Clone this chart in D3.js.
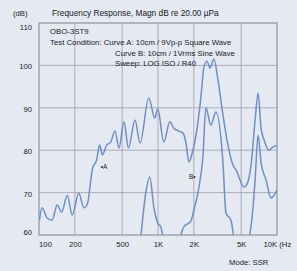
<!DOCTYPE html>
<html><head><meta charset="utf-8">
<script src="https://cdn.jsdelivr.net/npm/d3@7"></script>
<style>
html,body{margin:0;padding:0;background:#e5e9f2;}
svg{display:block;font-family:"Liberation Sans",Arial,sans-serif;}
</style></head><body>
<svg id="c" width="297" height="271"></svg>
<script>
const xTicks = [100, 200, 500, 1000, 2000, 5000, 10000];
const xTickLabels = ["100", "200", "500", "1K", "2K", "5K", "10K (Hz"];
const yTicks = [60, 70, 80, 90, 100, 110];
const freqA = [101,106,117,129,142,155,173,190,216,238,256,281,305,323,341,370,400,435,470,518,564,641,707,836,940,996,1119,1257,1359,1497,1618,1714,1817,1965,2123,2294,2431,2577,2731,2951,3190,3516,3800,4266,4613,4887,5284,5598,6053,6546,6934,7346,7783,8577,9275,10000];
const dbA = [63.5,66.4,64.0,63.5,67.1,65.4,69.4,64.7,69.9,66.4,67.5,75.6,77.7,81.2,78.9,81.2,81.9,84.5,80.5,86.7,80.5,87.1,81.7,92.3,87.6,89.7,81.9,86.7,85.2,84.5,84.1,81.9,77.2,80.0,84.8,92.5,99.6,101.0,99.4,101.5,96.6,88.3,82.4,76.5,74.9,73.0,71.3,72.0,76.5,87.1,93.5,85.2,82.4,80.0,80.8,81.2];
const freqB = [716,789,853,922,996,1056,1119,1282,1497,1649,1889,2004,2208,2384,2526,2784,3069,3516,3724,4105,4352,4986,5820,6293,6546,6934,7346,8091,8913,9459,10000];
const dbB = [59.3,69.9,73.7,66.6,62.8,61.9,58.8,56.5,58.8,61.9,63.3,65.9,71.3,78.4,90.0,85.9,89.0,77.0,65.2,63.5,59.3,55.3,59.3,66.6,73.0,83.6,77.0,73.0,68.7,69.4,70.6];
const header = ["OBO-3ST9", "Test Condition: Curve A: 10cm / 9Vp-p Square Wave", "Curve B: 10cm / 1Vrms Sine Wave", "Sweep: LOG ISO / R40"];

const svg = d3.select("#c");
const L = 39, R = 277, T = 23, B = 235;
const x = d3.scaleLog().domain([100, 10000]).range([L, R]);
const y = d3.scaleLinear().domain([60, 110]).range([B, T]);
const grid = "#9aa0ab", line = "#6f8fc4", txt = "#1a1a1a";

svg.append("rect").attr("width",297).attr("height",271).attr("fill","#e5e9f2");
svg.append("defs").append("clipPath").attr("id","clip").append("rect")
  .attr("x",L).attr("y",T).attr("width",R-L).attr("height",B-T);

// grid
svg.append("g").selectAll("line").data(xTicks.slice(1,-1)).join("line")
  .attr("x1",d=>x(d)).attr("x2",d=>x(d)).attr("y1",T).attr("y2",B)
  .attr("stroke",grid).attr("stroke-width",0.8);
svg.append("g").selectAll("line").data(yTicks.slice(1,-1)).join("line")
  .attr("y1",d=>y(d)).attr("y2",d=>y(d)).attr("x1",L).attr("x2",R)
  .attr("stroke",grid).attr("stroke-width",0.8);
svg.append("rect").attr("x",L).attr("y",T).attr("width",R-L).attr("height",B-T)
  .attr("fill","none").attr("stroke","#7d838e").attr("stroke-width",1);

// axes labels
const xa = d3.axisBottom(x).tickValues(xTicks).tickFormat((d,i)=>xTickLabels[i]).tickSize(0).tickPadding(7);
const gx = svg.append("g").attr("transform",`translate(0,${B})`).call(xa);
gx.select(".domain").remove();
gx.selectAll("text").attr("font-size",7.7).attr("fill",txt).attr("font-family","Liberation Sans, Arial, sans-serif")
  .attr("text-anchor",(d,i)=> i===xTicks.length-1 ? "start":"middle")
  .attr("dx",(d,i)=> i===xTicks.length-1 ? -14 : (i===0?6:0));
const ya = d3.axisLeft(y).tickValues(yTicks).tickSize(0).tickPadding(7);
const gy = svg.append("g").attr("transform",`translate(${L},0)`).call(ya);
gy.select(".domain").remove();
gy.selectAll("text").attr("font-size",7.7).attr("fill",txt).attr("font-family","Liberation Sans, Arial, sans-serif")
  .attr("dy",(d)=> d===110 ? "0.9em" : (d===60?"-0.1em":"0.45em"));

svg.append("text").attr("x",13).attr("y",16).attr("font-size",7.7).attr("fill",txt).text("(dB)");
svg.append("text").attr("x",52).attr("y",16).attr("font-size",8.3).attr("fill",txt).text("Frequency Response, Magn dB re 20.00 µPa");
svg.append("text").attr("x",229).attr("y",265).attr("font-size",7.7).attr("fill",txt).text("Mode: SSR");

// curves
const lg = d3.line().x(d=>x(d[0])).y(d=>y(d[1])).curve(d3.curveMonotoneX);
const cg = svg.append("g").attr("clip-path","url(#clip)");
cg.append("path").attr("d",lg(freqA.map((f,i)=>[f,dbA[i]]))).attr("fill","none").attr("stroke",line).attr("stroke-width",1.5);
cg.append("path").attr("d",lg(freqB.map((f,i)=>[f,dbB[i]]))).attr("fill","none").attr("stroke",line).attr("stroke-width",1.5);

// header text in plot
const hx = [50, 50, 115, 115], hy = [34, 45, 56, 66];
svg.append("g").selectAll("text").data(header).join("text")
  .attr("x",(d,i)=>hx[i]).attr("y",(d,i)=>hy[i]).attr("font-size",7.8).attr("fill",txt).text(d=>d);

svg.append("text").attr("x",x(330)).attr("y",y(75.5)).attr("font-size",6.5).attr("fill",txt).text("•A");
svg.append("text").attr("x",x(1820)).attr("y",y(73.2)).attr("font-size",6.5).attr("fill",txt).text("B•");
</script></body></html>
